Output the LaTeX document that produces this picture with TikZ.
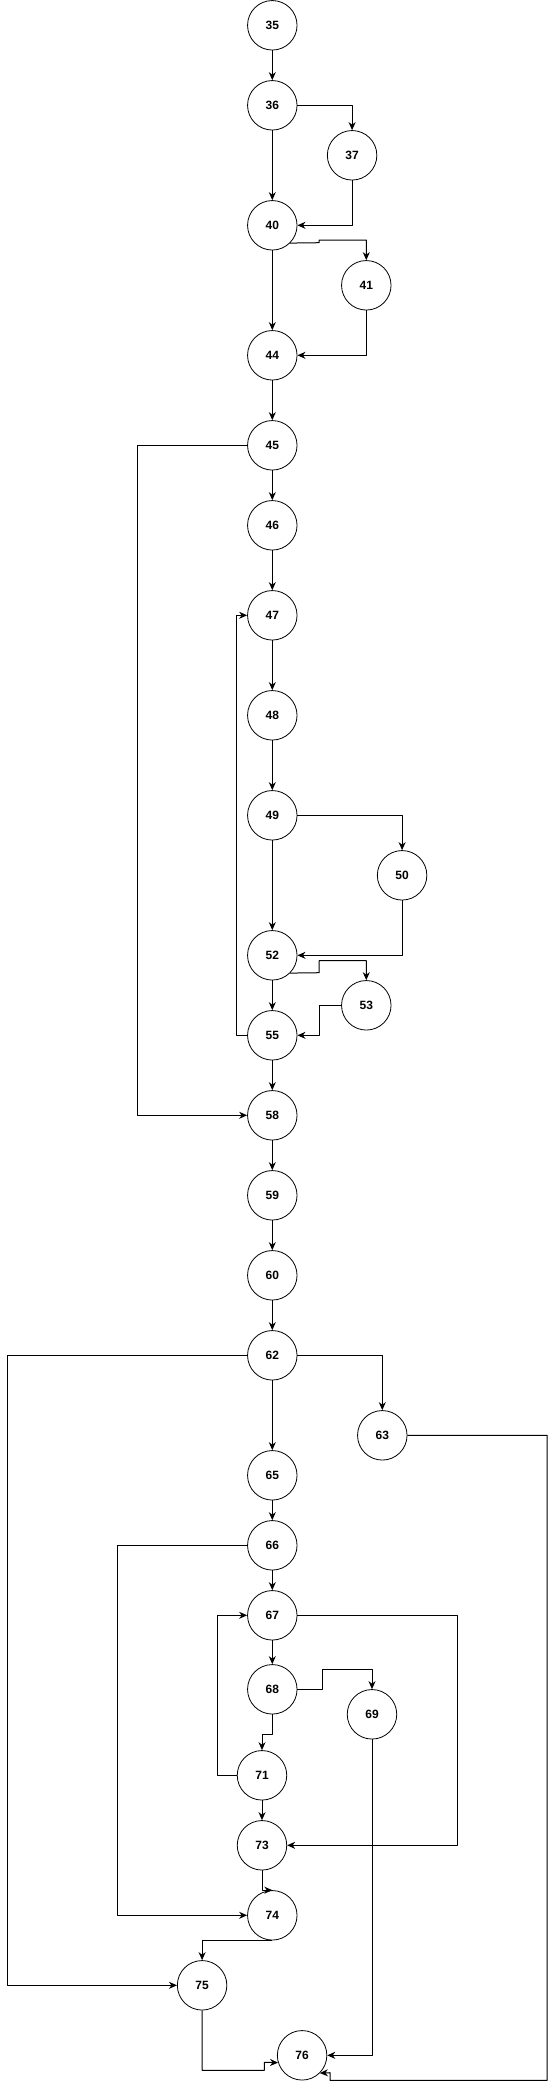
\documentclass[tikz,border=0pt]{standalone}
\usepackage{fontspec}
\setmainfont{Liberation Sans}
\usetikzlibrary{arrows.meta}
\begin{document}
\begin{tikzpicture}[x=1pt, y=-1pt, line join=round, >={Stealth[length=8pt,width=7pt,inset=2.5pt]},
	nut/.style={draw, circle, minimum size=49.5pt, inner sep=0pt, line width=0.8pt, font=\fontsize{12}{14}\selectfont\bfseries},
	cung/.style={->, line width=1pt}]
	\useasboundingbox (0,0) rectangle (556,2089);
	
	% Các đỉnh của đồ thị
	\foreach \t/\x/\y in {35/272.3/25.3, 36/272.3/105.3, 37/352.1/155.3, 40/272.3/225.3, 41/366.3/285.3,
		44/272.3/355.3, 45/272.3/445.3, 46/272.3/525.3, 47/272.3/615.3, 48/272.3/715.3,
		49/272.3/815.3, 50/402.1/875.3, 52/272.3/955.3, 53/366.3/1005.3, 55/272.3/1035.3,
		58/272.3/1115.3, 59/272.3/1195.3, 60/272.3/1275.3, 62/272.3/1355.3, 63/382.3/1435.3,
		65/272.3/1475.3, 66/272.3/1545.3, 67/272.3/1615.3, 68/272.3/1689.3, 69/372.0/1714.3,
		71/262.0/1775.3, 73/262.0/1845.3, 74/272.3/1915.3, 75/202.1/1985.3, 76/302.1/2055.3}
		\node[nut] (n\t) at (\x,\y) {\t};
	
	% Các cung thẳng đứng
	\foreach \a/\b in {35/36, 36/40, 40/44, 44/45, 45/46, 46/47, 47/48, 48/49, 49/52, 52/55,
		55/58, 58/59, 59/60, 60/62, 62/65, 65/66, 66/67, 67/68, 71/73}
		\draw[cung] (n\a) -- (n\b);
	
	% Các nhánh bên phải
	\draw[cung] (n36) -| (n37);
	\draw[cung] (n37) |- (n40);
	\draw[cung] (n40.south east) -- (319.1,242.7) -- (319.1,240) -| (n41);
	\draw[cung] (n41) |- (n44);
	\draw[cung] (n49) -| (n50);
	\draw[cung] (n50) |- (n52);
	\draw[cung] (n52.south east) -- (319.1,972.7) -- (319.1,960.7) -| (n53);
	\draw[cung] (n53) -- (319.1,1005.3) |- (n55);
	\draw[cung] (n62) -| (n63);
	\draw[cung] (n63) -- (547.2,1435.3) -- (547.2,2080.3) -- (330,2080.3) -- (330,2072.7) -- (n76.south east);
	\draw[cung] (n67) -- (457.4,1615.3) |- (n73);
	\draw[cung] (n68) -- (322,1689.3) -- (322,1669.3) -| (n69);
	\draw[cung] (n69) |- (n76);
	
	% Các nhánh bên trái và vòng lặp
	\draw[cung] (n45) -- (137.2,445.3) |- (n58);
	\draw[cung] (n55) -- (236.9,1035.3) |- (n47);
	\draw[cung] (n62) -- (7.4,1355.3) |- (n75);
	\draw[cung] (n66) -- (117.4,1545.3) |- (n74);
	\draw[cung] (n68) -- (272.3,1734) -| (n71);
	\draw[cung] (n71) -- (217.4,1775.3) |- (n67);
	\draw[cung] (n73) |- (n74.north);
	\draw[cung] (n74.south) -| (n75);
	\draw[cung] (n75) |- (264.3,2070.3) -- (264.3,2062.3) -- (n76.197);
\end{tikzpicture}
\end{document}
